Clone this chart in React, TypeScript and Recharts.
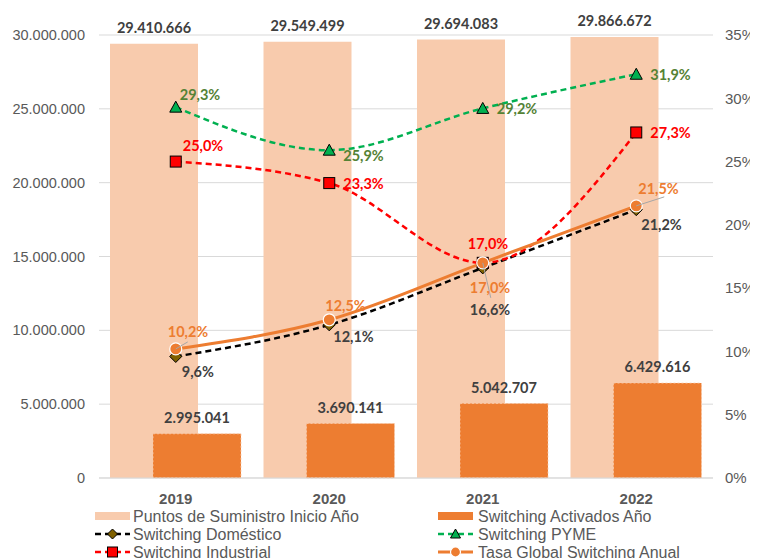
import React from "react"
import {
  Bar,
  CartesianGrid,
  ComposedChart,
  LabelList,
  Line,
  XAxis,
  YAxis,
} from "recharts"

const years = ["2019", "2020", "2021", "2022"]
const puntosSuministro = [29410666, 29549499, 29694083, 29866672]
const switchingActivados = [2995041, 3690141, 5042707, 6429616]
const switchingDomestico = [9.6, 12.1, 16.6, 21.2]
const switchingPyme = [29.3, 25.9, 29.2, 31.9]
const switchingIndustrial = [25.0, 23.3, 17.0, 27.3]
const tasaGlobal = [10.2, 12.5, 17.0, 21.5]
const leftTicks = [0, 5000000, 10000000, 15000000, 20000000, 25000000, 30000000]
const rightTicks = [0, 5, 10, 15, 20, 25, 30, 35]

const data = years.map((year, i) => ({
  year,
  puntos: puntosSuministro[i],
  activados: switchingActivados[i],
  domestico: switchingDomestico[i],
  pyme: switchingPyme[i],
  industrial: switchingIndustrial[i],
  tasa: tasaGlobal[i],
}))

// label placement relative to the point: [dx to left edge, dy to text centre]
const pymeOffsets = [[4, -13], [14, 5], [14, 0], [14, 0]]
const industrialOffsets = [[7, -16], [14, 0], [-15, -19], [14, 0]]
const tasaOffsets = [[-8, -17], [-4, -14], [-13, 25], [2, -17]]
const domesticoOffsets = [[6, 15], [4, 12], [-13, 42], [5, 15]]
const tasaLeaders = [[12, -7], null, [8, 35], [28, -9]]

const AXIS_FONT = "'Liberation Sans', Arial, sans-serif"
const LABEL_FONT = "Lato, 'Open Sans', sans-serif"
const GREY = "#595959"

const fmtThousands = (n: number) => String(Math.round(n)).replace(/\B(?=(\d{3})+(?!\d))/g, ".")
const fmtPct = (v: number) => v.toFixed(1).replace(".", ",") + "%"

function barLabel(props: any) {
  const { x, y, width, value } = props
  return (
    <text
      x={x + width / 2}
      y={y - 11}
      textAnchor="middle"
      fill="#404040"
      fontSize={14.5}
      fontWeight="bold"
      fontFamily={LABEL_FONT}
    >
      {fmtThousands(value)}
    </text>
  )
}

function pctLabel(offsets: number[][], color: string, leaders?: (number[] | null)[]) {
  return (props: any) => {
    const { x, y, value, index } = props
    const [dx, dy] = offsets[index] || [10, 0]
    const leader = leaders ? leaders[index] : null
    return (
      <g>
        {leader && (
          <line x1={x} y1={y} x2={x + leader[0]} y2={y + leader[1]} stroke="#A6A6A6" strokeWidth={1} />
        )}
        <text
          x={x + dx}
          y={y + dy}
          dominantBaseline="central"
          fill={color}
          fontSize={14.5}
          fontWeight="bold"
          fontFamily={LABEL_FONT}
        >
          {fmtPct(value)}
        </text>
      </g>
    )
  }
}

const Diamond = ({ cx, cy, s = 6 }: any) => (
  <path d={`M${cx},${cy - s}L${cx + s},${cy}L${cx},${cy + s}L${cx - s},${cy}Z`} fill="#7F6000" stroke="#000" strokeWidth={1} />
)
const Triangle = ({ cx, cy, s = 6 }: any) => (
  <path d={`M${cx},${cy - s}L${cx + s},${cy + s - 1}L${cx - s},${cy + s - 1}Z`} fill="#00B050" stroke="#000" strokeWidth={1} />
)
const Square = ({ cx, cy, s = 5.5 }: any) => (
  <rect x={cx - s} y={cy - s} width={2 * s} height={2 * s} fill="#FF0000" stroke="#000" strokeWidth={1} />
)
const Circle = ({ cx, cy, r = 6 }: any) => (
  <circle cx={cx} cy={cy} r={r} fill="#ED7D31" stroke="#fff" strokeWidth={1.2} />
)

function LegendBox() {
  const text = (x: number, y: number, t: string) => (
    <text x={x} y={y} dominantBaseline="central" fontSize={16} fill={GREY} fontFamily={AXIS_FONT}>
      {t}
    </text>
  )
  const dashed = (x: number, y: number, color: string, dash?: string, w = 2.5) => (
    <line x1={x} y1={y} x2={x + 35} y2={y} stroke={color} strokeWidth={w} strokeDasharray={dash} />
  )
  return (
    <svg width={750} height={60} style={{ position: "absolute", left: 0, top: 490 }}>
      <rect x={87} y={14} width={35} height={8} fill="#F8CBAD" />
      {text(125, 18, "Puntos de Suministro Inicio Año")}
      <rect x={430} y={14} width={35} height={8} fill="#ED7D31" />
      {text(470, 18, "Switching Activados Año")}

      {dashed(87, 36, "#000", "6 4")}
      <Diamond cx={104.5} cy={36} s={5} />
      {text(125, 36, "Switching Doméstico")}
      {dashed(430, 36, "#00B050", "6 4")}
      <Triangle cx={447.5} cy={36} s={5} />
      {text(470, 36, "Switching PYME")}

      {dashed(87, 54, "#FF0000", "6 4")}
      <Square cx={104.5} cy={54} s={5} />
      {text(125, 54, "Switching Industrial")}
      {dashed(430, 54, "#ED7D31", undefined, 3)}
      <Circle cx={447.5} cy={54} r={5} />
      {text(470, 54, "Tasa Global Switching Anual")}
    </svg>
  )
}

export default function App() {
  return (
    <div style={{ position: "relative", width: 750, height: 550, overflow: "hidden" }}>
      <ComposedChart
        width={750}
        height={550}
        data={data}
        margin={{ top: 27, right: 0, bottom: 50, left: 0 }}
        barGap={-45}
      >
        <CartesianGrid yAxisId="left" vertical={false} stroke="#D9D9D9" strokeWidth={1} />
        <XAxis
          dataKey="year"
          height={30}
          tickLine={false}
          axisLine={{ stroke: "#D9D9D9" }}
          tickMargin={9}
          tick={{ fill: GREY, fontSize: 15, fontWeight: "bold", fontFamily: AXIS_FONT }}
        />
        <YAxis
          yAxisId="left"
          width={91}
          domain={[0, 30000000]}
          ticks={leftTicks}
          tickFormatter={fmtThousands}
          tickLine={false}
          axisLine={false}
          tickMargin={8}
          tick={{ fill: GREY, fontSize: 14.5, fontFamily: AXIS_FONT }}
        />
        <YAxis
          yAxisId="right"
          orientation="right"
          width={45}
          domain={[0, 35]}
          ticks={rightTicks}
          tickFormatter={(v) => `${v}%`}
          tickLine={false}
          axisLine={false}
          tickMargin={6}
          tick={{ fill: GREY, fontSize: 15, fontFamily: AXIS_FONT }}
        />
        <Bar yAxisId="left" dataKey="puntos" barSize={88} fill="#F8CBAD" isAnimationActive={false}>
          <LabelList dataKey="puntos" content={barLabel} />
        </Bar>
        <Bar
          yAxisId="left"
          dataKey="activados"
          barSize={88}
          fill="#ED7D31"
          stroke="#F8CBAD"
          strokeWidth={0.8}
          strokeDasharray="2 2"
          isAnimationActive={false}
        >
          <LabelList dataKey="activados" content={barLabel} />
        </Bar>
        <Line
          yAxisId="right"
          type="monotone"
          dataKey="domestico"
          stroke="#000"
          strokeWidth={2.5}
          strokeDasharray="6 4"
          dot={(p: any) => <Diamond key={`dd-${p.index}`} cx={p.cx} cy={p.cy} />}
          activeDot={false}
          isAnimationActive={false}
        >
          <LabelList dataKey="domestico" content={pctLabel(domesticoOffsets, "#404040")} />
        </Line>
        <Line
          yAxisId="right"
          type="monotone"
          dataKey="pyme"
          stroke="#00B050"
          strokeWidth={2.5}
          strokeDasharray="6 4"
          dot={(p: any) => <Triangle key={`pd-${p.index}`} cx={p.cx} cy={p.cy} />}
          activeDot={false}
          isAnimationActive={false}
        >
          <LabelList dataKey="pyme" content={pctLabel(pymeOffsets, "#548235")} />
        </Line>
        <Line
          yAxisId="right"
          type="monotone"
          dataKey="industrial"
          stroke="#FF0000"
          strokeWidth={2.5}
          strokeDasharray="6 4"
          dot={(p: any) => <Square key={`id-${p.index}`} cx={p.cx} cy={p.cy} />}
          activeDot={false}
          isAnimationActive={false}
        >
          <LabelList dataKey="industrial" content={pctLabel(industrialOffsets, "#FF0000")} />
        </Line>
        <Line
          yAxisId="right"
          type="monotone"
          dataKey="tasa"
          stroke="#ED7D31"
          strokeWidth={3}
          dot={(p: any) => <Circle key={`td-${p.index}`} cx={p.cx} cy={p.cy} />}
          activeDot={false}
          isAnimationActive={false}
        >
          <LabelList dataKey="tasa" content={pctLabel(tasaOffsets, "#ED7D31", tasaLeaders)} />
        </Line>
      </ComposedChart>
      <LegendBox />
    </div>
  )
}
